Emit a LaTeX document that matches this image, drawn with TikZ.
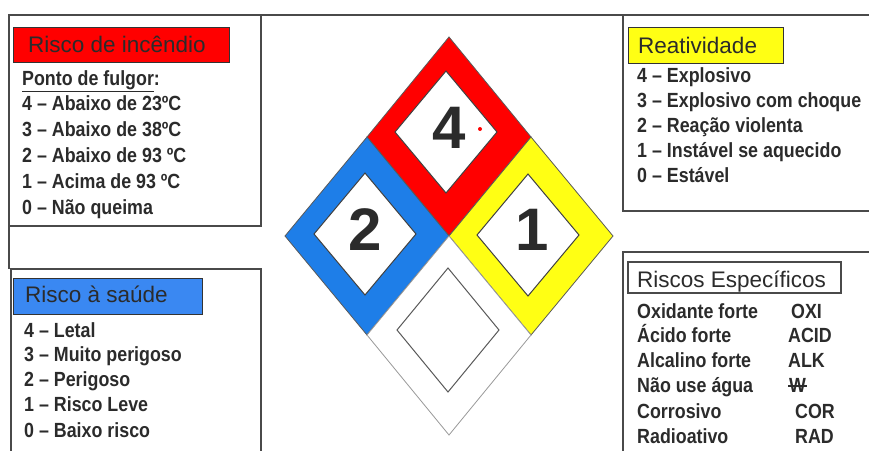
\documentclass[tikz,border=0pt]{standalone}
\usepackage{fontspec}
\setmainfont{Liberation Sans}
\newfontfamily\listfont{Liberation Sans}[FakeStretch=0.87]
\usetikzlibrary{positioning}

\definecolor{nfred}{HTML}{FF0000}
\definecolor{nfblue}{HTML}{1E7EE8}
\definecolor{headblue}{HTML}{3A88F2}
\definecolor{nfyellow}{HTML}{FFFF14}
\definecolor{framegray}{HTML}{4A4A4A}
\definecolor{inkgray}{HTML}{2B2B2B}

\begin{document}
\begin{tikzpicture}[x=1pt,y=-1pt,
  frame/.style={draw=framegray,line width=1.6pt},
  headbox/.style={draw=black!80,line width=1pt},
  head/.style={anchor=base west,inner sep=0pt,text=inkgray,font=\fontsize{22.5}{24}\selectfont},
  entry/.style={anchor=base west,inner sep=0pt,text=inkgray,font=\listfont\bfseries\fontsize{20.5}{22}\selectfont},
  quad/.style={draw=black!65,line width=0.8pt},
  window/.style={fill=white,draw=black!75,line width=1pt},
  digit/.style={inner sep=0pt,text=inkgray,font=\bfseries\fontsize{60}{60}\selectfont}]
\useasboundingbox (0,0) rectangle (869,450);

% frames
\draw[frame] (8,15) -- (869,15);
\draw[frame] (9,15) rectangle (261,226);
\draw[frame] (9,226) -- (9,269);
\draw[frame] (11,452) -- (11,269) -- (261,269) -- (261,452);
\draw[frame] (623,15) -- (623,211) -- (871,211);
\draw[frame] (871,252) -- (623,252) -- (623,452);

% Risco de incendio
\draw[headbox,fill=nfred] (13,27) rectangle (229,62);
\node[head] (hfire) at (28,52.5) {Risco de incêndio};
\node[entry] (pfulgor) at (22,85) {\underline{Ponto de fulgor}:};
\node[entry] (fire4) at (22,110) {4 – Abaixo de 23ºC};
\node[entry] (fire3) at (22,136) {3 – Abaixo de 38ºC};
\node[entry] (fire2) at (22,162) {2 – Abaixo de 93 ºC};
\node[entry] (fire1) at (22,188) {1 – Acima de 93 ºC};
\node[entry] (fire0) at (22,214) {0 – Não queima};

% Risco a saude
\draw[headbox,fill=headblue] (13,278) rectangle (202,314);
\node[head] (hhealth) at (25,302) {Risco à saúde};
\node[entry] (health4) at (24,337) {4 – Letal};
\node[entry] (health3) at (24,361) {3 – Muito perigoso};
\node[entry] (health2) at (24,386) {2 – Perigoso};
\node[entry] (health1) at (24,411) {1 – Risco Leve};
\node[entry] (health0) at (24,437) {0 – Baixo risco};

% Reatividade
\draw[headbox,fill=nfyellow] (628,27) rectangle (783,63);
\node[head] (hreact) at (638,53) {Reatividade};
\node[entry] (react4) at (637,82) {4 – Explosivo};
\node[entry] (react3) at (637,107) {3 – Explosivo com choque};
\node[entry] (react2) at (637,132) {2 – Reação violenta};
\node[entry] (react1) at (637,157) {1 – Instável se aquecido};
\node[entry] (react0) at (637,182) {0 – Estável};

% Riscos especificos
\draw[headbox,draw=framegray,line width=1.6pt,fill=white] (628,262) rectangle (841,293);
\node[head] (hspec) at (637,287) {Riscos Específicos};
\node[entry] (oxi) at (637,318) {Oxidante forte};
\node[entry] (acid) at (637,342) {Ácido forte};
\node[entry] (alk) at (637,367) {Alcalino forte};
\node[entry] (water) at (637,392) {Não use água};
\node[entry] (cor) at (637,418) {Corrosivo};
\node[entry] (rad) at (637,443) {Radioativo};
\node[entry] (oxicode) at (791,318) {OXI};
\node[entry] (acidcode) at (788,342) {ACID};
\node[entry] (alkcode) at (788,367) {ALK};
\node[entry] (watercode) at (789,392) {W};
\draw[inkgray,line width=1.3pt] ([xshift=-1pt,yshift=-1pt]watercode.west) -- ([xshift=1pt,yshift=-1pt]watercode.east);
\node[entry] (corcode) at (795,418) {COR};
\node[entry] (radcode) at (795,443) {RAD};

% diamond
\coordinate (top) at (449,37);
\coordinate (left) at (285,236);
\coordinate (right) at (613,236);
\coordinate (bot) at (449,435);
\coordinate (mid) at (449,236);
\coordinate (tl) at (367,137);
\coordinate (tr) at (531,137);
\coordinate (bl) at (367,335);
\coordinate (br) at (531,335);
\draw[quad,fill=nfred] (top) -- (tr) -- (mid) -- (tl) -- cycle;
\draw[quad,fill=nfblue] (tl) -- (mid) -- (bl) -- (left) -- cycle;
\draw[quad,fill=nfyellow] (tr) -- (right) -- (br) -- (mid) -- cycle;
\draw[quad,draw=black!40,fill=white] (mid) -- (br) -- (bot) -- (bl) -- cycle;
\draw[window] (446,71) -- ++(51,61) -- ++(-51,61) -- ++(-51,-61) -- cycle;
\draw[window] (365,173) -- ++(51,61) -- ++(-51,61) -- ++(-51,-61) -- cycle;
\draw[window] (528,174) -- ++(51,61) -- ++(-51,61) -- ++(-51,-61) -- cycle;
\draw[window,draw=black!65] (448,268) -- ++(51,62) -- ++(-51,62) -- ++(-51,-62) -- cycle;
\node[digit] (fireval) at (449,127.5) {4};
\node[digit] (healthval) at (365,229.5) {2};
\node[digit] (reactval) at (532,229.5) {1};
\fill[nfred] (480,129) circle (2);
\end{tikzpicture}
\end{document}
